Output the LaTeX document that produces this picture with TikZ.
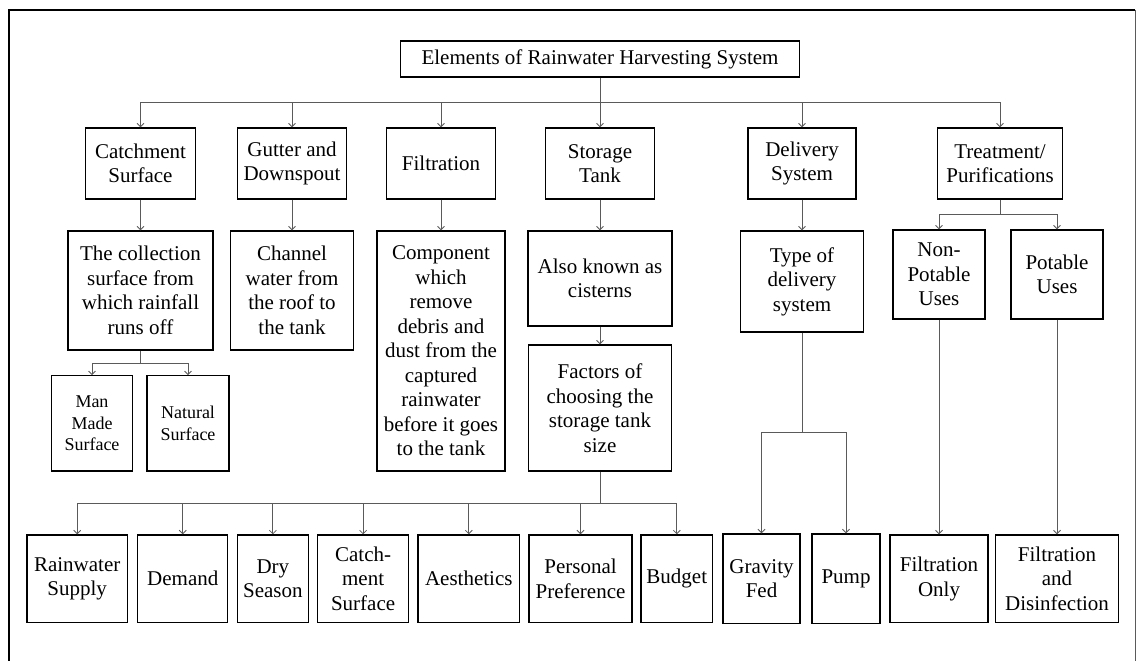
\documentclass[tikz,border=0pt]{standalone}
\usepackage{fontspec}
\setmainfont{Liberation Serif}
\usetikzlibrary{arrows.meta}
\definecolor{conncol}{HTML}{5A5A5A}
\begin{document}
\begin{tikzpicture}[x=1pt,y=-1pt,
  box/.style={draw=black, line width=1.3pt, rectangle, inner sep=0pt, align=center,
    font=\fontsize{21}{24.5}\selectfont},
  smallbox/.style={box, font=\fontsize{18}{21.7}\selectfont},
  conn/.style={draw=conncol, line width=0.9pt},
  arr/.style={conn, -{Straight Barb[length=3.5pt,width=7pt,line width=0.8pt]}}]
\useasboundingbox (0,0) rectangle (1138,661);
\fill[white] (0,0) rectangle (1138,661);
% frame
\draw[black, line width=1.7pt] (9,661) -- (9,10) -- (1135,10);
\draw[conncol, line width=1pt] (1135,10) -- (1135,661);

% title
\node[box, minimum width=399pt, minimum height=36pt] (title) at (600,59) {Elements of Rainwater Harvesting System};

% level 1
\node[box, minimum width=110pt, minimum height=71pt] (cs) at (140.5,163.5) {Catchment\\Surface};
\node[box, minimum width=109pt, minimum height=71pt] (gd) at (292,163.5) {Gutter and\\Downspout};
\node[box, minimum width=109pt, minimum height=71pt] (fi) at (441,163.5) {Filtration};
\node[box, minimum width=109pt, minimum height=71pt] (st) at (600,163.5) {Storage\\Tank};
\node[box, minimum width=108pt, minimum height=71pt] (ds) at (802,163.5) {Delivery\\System};
\node[box, minimum width=125pt, minimum height=71pt] (tp) at (1000,163.5) {Treatment/\\Purifications};

% level 2
\node[box, minimum width=145pt, minimum height=119pt] (col) at (140.5,290.5) {The collection\\surface from\\which rainfall\\runs off};
\node[box, minimum width=122.5pt, minimum height=119pt] (ch) at (292,290.5) {Channel\\water from\\the roof to\\the tank};
\node[box, minimum width=128pt, minimum height=240pt] (comp) at (441,351) {Component\\which\\remove\\debris and\\dust from the\\captured\\rainwater\\before it goes\\to the tank};
\node[box, minimum width=144pt, minimum height=95pt] (ak) at (600,278.5) {Also known as\\cisterns};
\node[box, minimum width=143pt, minimum height=126pt] (fc) at (600,408) {Factors of\\choosing the\\storage tank\\size};
\node[box, minimum width=122.4pt, minimum height=101pt] (td) at (802,281.5) {Type of\\delivery\\system};
\node[box, minimum width=92pt, minimum height=89pt] (np) at (939,274.5) {Non-\\Potable\\Uses};
\node[box, minimum width=92pt, minimum height=89pt] (po) at (1057,274.5) {Potable\\Uses};

% level 3 small
\node[smallbox, minimum width=81.5pt, minimum height=95.3pt] (mm) at (92,423.4) {Man\\Made\\Surface};
\node[smallbox, minimum width=82pt, minimum height=95.3pt] (nat) at (188,423.4) {Natural\\Surface};

% bottom row
\node[box, minimum width=100.4pt, minimum height=87.7pt] (rs) at (77.2,578.8) {Rainwater\\Supply};
\node[box, minimum width=90pt, minimum height=87.7pt] (dm) at (182.75,578.8) {Demand};
\node[box, minimum width=71pt, minimum height=87.7pt] (dry) at (272.9,578.8) {Dry\\Season};
\node[box, minimum width=91pt, minimum height=87.7pt] (cm) at (363.1,578.8) {Catch-\\ment\\Surface};
\node[box, minimum width=101.7pt, minimum height=87.7pt] (ae) at (468.8,578.8) {Aesthetics};
\node[box, minimum width=103pt, minimum height=87.7pt] (pp) at (580.5,578.8) {Personal\\Preference};
\node[box, minimum width=71.6pt, minimum height=87.7pt] (bu) at (676.8,578.8) {Budget};
\node[box, minimum width=77pt, minimum height=89.7pt] (gf) at (761.5,578.8) {Gravity\\Fed};
\node[box, minimum width=68pt, minimum height=89.7pt] (pu) at (846,578.8) {Pump};
\node[box, minimum width=98pt, minimum height=87.7pt] (fo) at (939,578.8) {Filtration\\Only};
\node[box, minimum width=122.4pt, minimum height=87.7pt] (fd) at (1057,578.8) {Filtration\\and\\Disinfection};

% bus coordinates
\coordinate (bus1) at (600,102.3);
\coordinate (cbus) at (140.5,363);
\coordinate (tbus) at (1000,214.7);
\coordinate (dbus) at (802,432);
\coordinate (fbus) at (600,503.3);

% connectors: top level
\draw[conn] (title.south) -- (bus1);
\foreach \n in {cs,gd,fi,st,ds,tp} \draw[arr] (bus1) -| (\n.north);

% straight arrows
\draw[arr] (cs.south) -- (col.north);
\draw[arr] (gd.south) -- (ch.north);
\draw[arr] (fi.south) -- (comp.north);
\draw[arr] (st.south) -- (ak.north);
\draw[arr] (ak.south) -- (fc.north);
\draw[arr] (ds.south) -- (td.north);
\draw[arr] (np.south) -- (fo.north);
\draw[arr] (po.south) -- (fd.north);

% collection split
\draw[conn] (col.south) -- (cbus);
\foreach \n in {mm,nat} \draw[arr] (cbus) -| (\n.north);

% treatment split
\draw[conn] (tp.south) -- (tbus);
\foreach \n in {np,po} \draw[arr] (tbus) -| (\n.north);

% delivery split
\draw[conn] (td.south) -- (dbus);
\foreach \n in {gf,pu} \draw[arr] (dbus) -| (\n.north);

% factors split
\draw[conn] (fc.south) -- (fbus);
\foreach \n in {rs,dm,dry,cm,ae,pp,bu} \draw[arr] (fbus) -| (\n.north);
\end{tikzpicture}
\end{document}
